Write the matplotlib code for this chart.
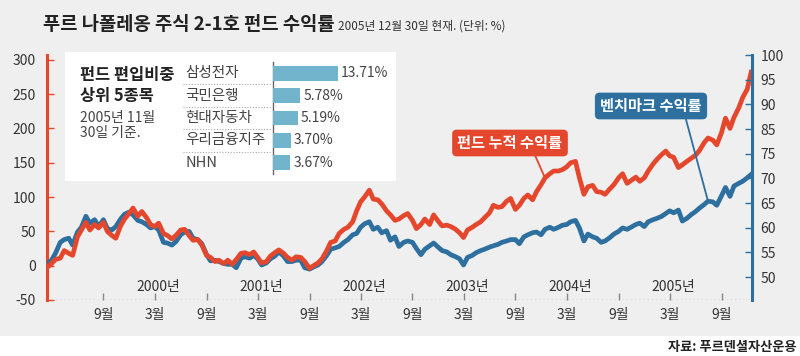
import numpy as np
import pandas as pd
import matplotlib
matplotlib.use('Agg')
import matplotlib.pyplot as plt
from matplotlib.patches import Rectangle

plt.rcParams['font.family'] = ['Noto Sans CJK KR', 'DejaVu Sans']

# --- data (semi-monthly) ---
dates = pd.date_range('1999-02-15', periods=165, freq='SMS')

fund = [
    -2, 3, 9, 11, 22, 18, 15, 42, 52, 63,
    52, 60, 55, 63, 50, 44, 40, 58, 68, 76,
    84, 72, 79, 70, 60, 57, 62, 47, 44, 39,
    44, 52, 53, 44, 37, 38, 30, 15, 12, 6,
    8, 3, 8, 2, 9, 18, 19, 16, 20, 12,
    4, 6, 14, 19, 23, 18, 12, 8, 13, 12,
    6, -4, 0, 4, 10, 22, 34, 36, 47, 53,
    56, 64, 80, 93, 100, 110, 97, 96, 90, 80,
    74, 66, 68, 73, 76, 66, 54, 60, 68, 60,
    74, 65, 58, 59, 57, 53, 48, 41, 52, 56,
    60, 64, 70, 77, 88, 85, 86, 94, 98, 82,
    88, 98, 103, 96, 108, 118, 128, 134, 138, 138,
    140, 144, 150, 152, 128, 104, 115, 117, 108, 107,
    104, 112, 118, 128, 134, 120, 124, 129, 123, 128,
    138, 148, 155, 162, 167, 160, 158, 143, 147, 152,
    156, 161, 168, 179, 186, 183, 176, 194, 215, 200,
    216, 230, 245, 257, 282,
]

bench = [
    4, 8, 18, 34, 38, 40, 30, 49, 56, 72,
    62, 67, 57, 67, 54, 52, 57, 68, 75, 78,
    74, 66, 64, 60, 55, 57, 52, 34, 33, 30,
    35, 45, 49, 50, 40, 38, 32, 16, 7, 8,
    6, 3, 2, 2, -3, 11, 13, 11, 15, 10,
    1, 4, 10, 14, 20, 14, 6, 6, 8, 8,
    -3, -5, -2, 1, 6, 15, 24, 26, 28, 34,
    38, 45, 47, 56, 61, 64, 53, 56, 48, 51,
    37, 42, 28, 34, 36, 34, 25, 16, 24, 29,
    33, 27, 22, 20, 16, 13, 10, 1, 12, 15,
    19, 22, 24, 27, 29, 31, 34, 36, 38, 38,
    32, 42, 45, 48, 49, 45, 53, 56, 53, 56,
    59, 60, 64, 66, 55, 36, 46, 42, 40, 34,
    36, 41, 46, 50, 55, 53, 56, 60, 62, 57,
    64, 67, 69, 72, 76, 80, 77, 81, 65, 69,
    74, 79, 84, 89, 94, 93, 88, 102, 114, 101,
    116, 120, 123, 128, 133,
]

left_ticks = [-50, 0, 50, 100, 150, 200, 250, 300]
right_labels = ['50', '55', '60', '65', '70', '75', '85', '90', '95', '100']

month_ticks = ['1999-09-01', '2000-03-01', '2000-09-01', '2001-03-01', '2001-09-01',
               '2002-03-01', '2002-09-01', '2003-03-01', '2003-09-01', '2004-03-01',
               '2004-09-01', '2005-03-01', '2005-09-01']
month_labels = ['9월', '3월'] * 6 + ['9월']
year_pos = ['2000-03-15', '2001-03-15', '2002-03-15', '2003-03-15', '2004-03-15', '2005-03-15']
year_labels = ['2000년', '2001년', '2002년', '2003년', '2004년', '2005년']

stocks = ['삼성전자', '국민은행', '현대자동차', '우리금융지주', 'NHN']
weights = [13.71, 5.78, 5.19, 3.70, 3.67]

RED = '#e5472d'
BLUE = '#2d6f9e'
BAR = '#72b4cb'
BG = '#efefef'
TXT = '#333333'

W, H = 800, 356
def fx(px): return px / W
def fy(py): return 1 - py / H

fig = plt.figure(figsize=(8, 3.56), dpi=100, facecolor='white')
fig.patches.append(Rectangle((0, fy(336)), 1, 1 - fy(336), transform=fig.transFigure,
                             facecolor=BG, edgecolor='none', zorder=-10))

# --- main axes ---
ax = fig.add_axes([fx(47), fy(300), fx(752) - fx(47), fy(55) - fy(300)])
ax.set_facecolor('none')
ax.plot(dates, bench, color=BLUE, lw=3.4, solid_joinstyle='round', zorder=3)
ax.plot(dates, fund, color=RED, lw=3.4, solid_joinstyle='round', zorder=4)
ax.set_xlim(dates[0] - pd.Timedelta(days=2), dates[-1] + pd.Timedelta(days=3))
ax.set_ylim(-50, 307)

for s in ['top', 'right', 'bottom']:
    ax.spines[s].set_visible(False)
ax.spines['left'].set_color(RED)
ax.spines['left'].set_linewidth(2.2)
ax.axhline(-50, color='#999999', lw=1, ls=(0, (1, 2)), zorder=1)

ax.set_yticks(left_ticks)
ax.set_yticklabels([str(t) for t in left_ticks])
ax.tick_params(axis='y', direction='in', length=5, width=1, color=RED,
               labelsize=10, labelcolor=TXT, pad=8)

ax.set_xticks(pd.to_datetime(month_ticks))
ax.set_xticklabels(month_labels)
ax.tick_params(axis='x', direction='in', length=5, width=1, color='#888888',
               labelsize=10, labelcolor=TXT, pad=6)
for d, lab in zip(pd.to_datetime(year_pos), year_labels):
    ax.text(d, -31, lab, ha='center', va='center', fontsize=10, color=TXT)

# --- right axis ---
ax2 = ax.twinx()
ax2.set_ylim(-0.93, 9)
ax2.set_yticks(range(len(right_labels)))
ax2.set_yticklabels(right_labels)
for s in ['top', 'left', 'bottom']:
    ax2.spines[s].set_visible(False)
ax2.spines['right'].set_color(BLUE)
ax2.spines['right'].set_linewidth(2.2)
ax2.tick_params(axis='y', direction='in', length=5, width=1, color=BLUE,
                labelsize=10, labelcolor=TXT, pad=6)

# --- callouts ---
k_f, k_b = 116, 154
ax.annotate('펀드 누적 수익률', xy=(dates[k_f], fund[k_f]), xycoords='data',
            xytext=(fx(510), fy(143)), textcoords='figure fraction',
            ha='center', va='center', fontsize=11, fontweight='bold', color='white',
            bbox=dict(boxstyle='round,pad=0.35,rounding_size=0.3', fc=RED, ec='none'),
            arrowprops=dict(arrowstyle='-', color=RED, lw=1.3, shrinkA=0, shrinkB=0,
                            relpos=(0.72, 0)), zorder=6)
ax.annotate('벤치마크 수익률', xy=(dates[k_b], bench[k_b]), xycoords='data',
            xytext=(fx(651), fy(106)), textcoords='figure fraction',
            ha='center', va='center', fontsize=11, fontweight='bold', color='white',
            bbox=dict(boxstyle='round,pad=0.35,rounding_size=0.3', fc=BLUE, ec='none'),
            arrowprops=dict(arrowstyle='-', color=BLUE, lw=1.3, shrinkA=0, shrinkB=0,
                            relpos=(0.83, 0)), zorder=6)

# --- inset box: top 5 holdings ---
fig.patches.append(Rectangle((fx(65), fy(181)), fx(396) - fx(65), fy(52) - fy(181),
                             transform=fig.transFigure, facecolor='white',
                             edgecolor='none', zorder=5))
fig.text(fx(80), fy(75), '펀드 편입비중', fontsize=11.8, fontweight='bold', color='#222222',
         va='center', zorder=6)
fig.text(fx(80), fy(96), '상위 5종목', fontsize=11.8, fontweight='bold', color='#222222',
         va='center', zorder=6)
fig.text(fx(80), fy(118), '2005년 11월', fontsize=10, color='#444444', va='center', zorder=6)
fig.text(fx(80), fy(133), '30일 기준.', fontsize=10, color='#444444', va='center', zorder=6)

axb = fig.add_axes([fx(273), fy(174), fx(396) - fx(273), fy(62) - fy(174)], zorder=7)
axb.set_facecolor('none')
ypos = np.arange(len(stocks))
axb.barh(ypos, weights, height=0.66, color=BAR, zorder=3)
axb.set_xlim(0, 26)
axb.set_ylim(len(stocks) - 0.5, -0.5)
for s in ['top', 'right', 'bottom']:
    axb.spines[s].set_visible(False)
axb.spines['left'].set_color('#666666')
axb.spines['left'].set_linewidth(1)
axb.set_xticks([])
axb.set_yticks([])
for i, (name, w) in enumerate(zip(stocks, weights)):
    axb.text(-18.6, i, name, ha='left', va='center', fontsize=10.5, color='#444444')
    axb.text(w + 0.6, i, f'{w:.2f}%', ha='left', va='center', fontsize=10, color='#444444')
    if i < len(stocks) - 1:
        axb.plot([-19, -0.4], [i + 0.5, i + 0.5], color='#aaaaaa', lw=0.8,
                 ls=(0, (1, 1.5)), clip_on=False)

# --- titles and source ---
fig.text(fx(43), fy(24), '푸르 나폴레옹 주식 2-1호 펀드 수익률', fontsize=13.5,
         fontweight='bold', color='#222222', va='center')
fig.text(fx(338), fy(26), '2005년 12월 30일 현재. (단위: %)', fontsize=8.5,
         color='#333333', va='center')
fig.text(fx(797), fy(347), '자료: 푸르덴셜자산운용', fontsize=9.5, fontweight='bold',
         color='#222222', ha='right', va='center')

fig.savefig('out.png', dpi=100, facecolor=fig.get_facecolor())
